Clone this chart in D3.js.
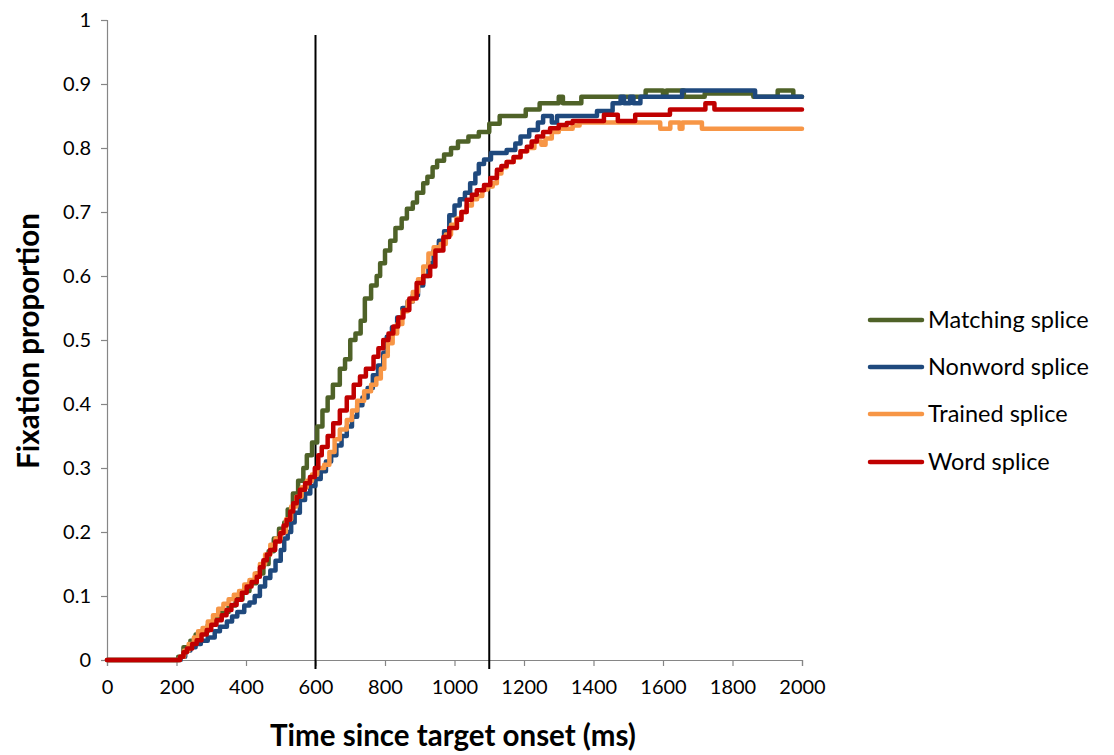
<!DOCTYPE html>
<html>
<head>
<meta charset="utf-8">
<script src="https://cdn.jsdelivr.net/npm/d3@7"></script>
<style>
  html, body { margin: 0; padding: 0; background: #fff; }
  svg { display: block; }
  text { font-family: Lato, "Open Sans", sans-serif; fill: #000; }
</style>
</head>
<body>
<svg id="chart" width="1114" height="755"></svg>
<script>
// ---- data (time in ms, fixation proportion) ----
const seriesNames = ["Matching splice", "Nonword splice", "Trained splice", "Word splice"];
const seriesColors = ["#4F6228", "#1F497D", "#F79646", "#C00000"];

const matching = [[0,0],[205,0.005],[220,0.02],[240,0.03],[255,0.04],[270,0.045],[290,0.055],[310,0.065],[330,0.075],[350,0.085],[370,0.095],[390,0.108],[410,0.12],[430,0.135],[450,0.15],[465,0.17],[480,0.19],[495,0.205],[510,0.215],[520,0.235],[535,0.26],[550,0.28],[565,0.3],[575,0.32],[590,0.34],[605,0.365],[620,0.39],[635,0.41],[650,0.43],[670,0.455],[685,0.47],[700,0.5],[715,0.51],[730,0.53],[742,0.565],[760,0.585],[776,0.6],[786,0.62],[800,0.64],[815,0.655],[830,0.675],[848,0.69],[863,0.705],[880,0.715],[892,0.73],[910,0.745],[922,0.755],[937,0.77],[950,0.78],[970,0.79],[990,0.8],[1010,0.81],[1040,0.818],[1070,0.825],[1100,0.838],[1130,0.85],[1205,0.86],[1245,0.87],[1300,0.88],[1312,0.87],[1365,0.88],[1550,0.89],[1600,0.88],[1610,0.89],[1660,0.88],[1720,0.885],[1860,0.88],[1930,0.89],[1975,0.88],[2000,0.88]];

const nonword = [[0,0],[212,0.005],[225,0.015],[240,0.02],[255,0.025],[270,0.03],[290,0.035],[310,0.045],[325,0.052],[345,0.06],[360,0.068],[375,0.075],[395,0.085],[410,0.09],[425,0.1],[440,0.115],[455,0.128],[470,0.14],[485,0.155],[500,0.172],[510,0.19],[520,0.2],[530,0.215],[540,0.23],[555,0.25],[570,0.26],[585,0.272],[600,0.283],[615,0.295],[630,0.31],[645,0.32],[660,0.335],[675,0.35],[690,0.365],[705,0.38],[720,0.398],[735,0.41],[750,0.425],[765,0.445],[780,0.46],[795,0.48],[805,0.505],[820,0.52],[835,0.535],[850,0.55],[865,0.56],[880,0.57],[895,0.585],[910,0.6],[925,0.62],[940,0.64],[955,0.655],[970,0.67],[985,0.695],[1000,0.71],[1015,0.72],[1030,0.73],[1045,0.745],[1060,0.76],[1070,0.775],[1085,0.782],[1105,0.792],[1150,0.797],[1175,0.807],[1190,0.818],[1215,0.828],[1240,0.84],[1255,0.85],[1280,0.84],[1295,0.85],[1410,0.858],[1455,0.87],[1478,0.88],[1488,0.87],[1505,0.88],[1515,0.87],[1535,0.88],[1655,0.89],[1865,0.88],[2000,0.88]];

const trained = [[0,0],[210,0.005],[222,0.015],[235,0.025],[250,0.035],[262,0.045],[275,0.05],[290,0.06],[305,0.07],[320,0.08],[335,0.088],[350,0.095],[365,0.102],[380,0.108],[395,0.118],[410,0.125],[425,0.135],[440,0.15],[455,0.165],[470,0.18],[485,0.19],[500,0.2],[515,0.22],[530,0.24],[545,0.255],[560,0.27],[575,0.28],[590,0.29],[605,0.3],[625,0.305],[640,0.325],[655,0.345],[670,0.36],[690,0.375],[705,0.39],[720,0.405],[740,0.42],[760,0.43],[775,0.44],[788,0.455],[798,0.475],[808,0.495],[822,0.51],[835,0.525],[850,0.545],[865,0.56],[880,0.575],[895,0.595],[910,0.615],[925,0.635],[940,0.645],[960,0.65],[975,0.665],[990,0.68],[1005,0.69],[1020,0.7],[1035,0.71],[1050,0.72],[1065,0.725],[1080,0.735],[1095,0.74],[1110,0.745],[1122,0.76],[1135,0.77],[1150,0.778],[1170,0.785],[1190,0.795],[1210,0.8],[1230,0.81],[1250,0.805],[1262,0.815],[1280,0.825],[1300,0.83],[1340,0.835],[1360,0.84],[1592,0.83],[1621,0.84],[1648,0.83],[1656,0.84],[1712,0.83],[2000,0.83]];

const word = [[0,0],[210,0.005],[220,0.012],[230,0.018],[245,0.025],[258,0.031],[272,0.04],[287,0.047],[300,0.055],[315,0.062],[330,0.07],[344,0.078],[358,0.086],[373,0.094],[388,0.105],[402,0.115],[416,0.122],[431,0.13],[440,0.145],[450,0.156],[460,0.165],[469,0.172],[484,0.185],[498,0.198],[508,0.21],[517,0.219],[527,0.232],[536,0.245],[546,0.255],[555,0.266],[570,0.276],[584,0.286],[598,0.3],[608,0.32],[618,0.333],[635,0.35],[651,0.37],[670,0.39],[690,0.41],[710,0.43],[728,0.443],[745,0.455],[767,0.474],[781,0.487],[795,0.5],[810,0.51],[824,0.521],[838,0.535],[853,0.547],[870,0.565],[891,0.589],[910,0.6],[930,0.615],[945,0.64],[968,0.661],[985,0.675],[1007,0.688],[1020,0.7],[1035,0.719],[1050,0.727],[1064,0.734],[1085,0.742],[1103,0.753],[1122,0.766],[1135,0.772],[1150,0.778],[1170,0.786],[1190,0.795],[1208,0.802],[1222,0.81],[1237,0.818],[1255,0.825],[1275,0.831],[1300,0.836],[1323,0.839],[1340,0.842],[1430,0.852],[1470,0.842],[1520,0.852],[1620,0.86],[1722,0.87],[1748,0.86],[2000,0.86]];

const xTicks = [0,200,400,600,800,1000,1200,1400,1600,1800,2000];
const yTicks = [0,0.1,0.2,0.3,0.4,0.5,0.6,0.7,0.8,0.9,1];
const yTickLabels = ["0","0.1","0.2","0.3","0.4","0.5","0.6","0.7","0.8","0.9","1"];
const markerTimes = [600, 1100];
const xTitle = "Time since target onset (ms)";
const yTitle = "Fixation proportion";

// ---- drawing ----
const svg = d3.select("#chart");
const x = d3.scaleLinear().domain([0, 2000]).range([107, 802]);
const y = d3.scaleLinear().domain([0, 1]).range([660, 20]);
const axisColor = "#868686";

const gx = svg.append("g").attr("transform", `translate(0,${y(0)})`)
  .call(d3.axisBottom(x).tickValues(xTicks).tickSize(6).tickPadding(14).tickFormat(d3.format("d")));
const gy = svg.append("g").attr("transform", `translate(${x(0)},0)`)
  .call(d3.axisLeft(y).tickValues(yTicks).tickSize(6).tickPadding(10).tickFormat((d, i) => yTickLabels[i]));

[gx, gy].forEach(g => {
  g.select(".domain").attr("stroke", axisColor).attr("stroke-width", 1.2);
  g.selectAll(".tick line").attr("stroke", axisColor).attr("stroke-width", 1.2);
  g.selectAll(".tick text").attr("fill", "#000").style("font-family", "Lato, sans-serif").style("font-size", "20px");
});
gx.selectAll(".tick text").attr("dy", "0.71em");

// marker lines
svg.append("g").selectAll("line").data(markerTimes).join("line")
  .attr("x1", d => x(d)).attr("x2", d => x(d))
  .attr("y1", 35).attr("y2", y(0) + 9)
  .attr("stroke", "#000").attr("stroke-width", 2);

// series
const allSeries = [matching, nonword, trained, word];
const line = d3.line().x(d => x(d[0])).y(d => y(d[1])).curve(d3.curveStepAfter);
svg.append("g").selectAll("path").data(allSeries).join("path")
  .attr("d", line)
  .attr("fill", "none")
  .attr("stroke", (d, i) => seriesColors[i])
  .attr("stroke-width", 4.5)
  .attr("stroke-linejoin", "round")
  .attr("stroke-linecap", "round");

// axis titles
svg.append("text").attr("x", 453).attr("y", 746).attr("text-anchor", "middle")
  .style("font-size", "29.5px").style("font-weight", "bold").text(xTitle);
svg.append("text").attr("transform", "translate(39,341) rotate(-90)").attr("text-anchor", "middle")
  .style("font-size", "29.5px").style("font-weight", "bold").text(yTitle);

// legend
const legY = [320, 367, 414, 462];
const leg = svg.append("g").selectAll("g").data(seriesNames).join("g")
  .attr("transform", (d, i) => `translate(870,${legY[i]})`);
leg.append("line").attr("x1", 0).attr("x2", 52).attr("y1", 0).attr("y2", 0)
  .attr("stroke", (d, i) => seriesColors[i]).attr("stroke-width", 4.5).attr("stroke-linecap", "round");
leg.append("text").attr("x", 58).attr("y", 0).attr("dy", "0.35em")
  .style("font-size", "23.5px").text(d => d);
</script>
</body>
</html>
